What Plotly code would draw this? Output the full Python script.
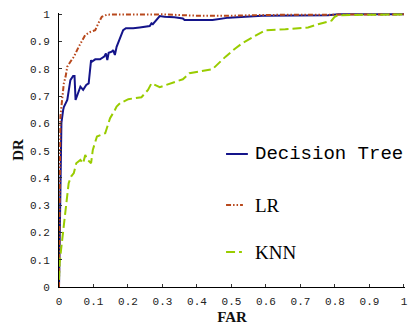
import plotly.graph_objects as go

# Decision Tree
dt_far = [0, 0.002, 0.004, 0.007, 0.012, 0.014, 0.024, 0.033, 0.041, 0.045, 0.048, 0.062, 0.070, 0.079, 0.086,
          0.093, 0.095, 0.105, 0.119, 0.131, 0.136, 0.140, 0.144, 0.153, 0.157, 0.162, 0.167, 0.186, 0.194,
          0.215, 0.234, 0.263, 0.268, 0.272, 0.292, 0.306, 0.335, 0.359, 0.364, 0.445, 0.492, 0.522, 0.589,
          0.780, 0.804, 0.81, 1.0]
dt_dr = [0, 0.2, 0.503, 0.602, 0.649, 0.660, 0.686, 0.759, 0.774, 0.774, 0.686, 0.735, 0.723, 0.741, 0.747,
         0.832, 0.826, 0.835, 0.835, 0.845, 0.857, 0.832, 0.859, 0.863, 0.869, 0.851, 0.881, 0.942, 0.949,
         0.949, 0.952, 0.957, 0.967, 0.964, 0.994, 0.991, 0.989, 0.985, 0.979, 0.979, 0.988, 0.991, 0.995,
         0.997, 0.999, 1.0, 1.0]

# LR
lr_far = [0, 0.001, 0.002, 0.004, 0.009, 0.014, 0.019, 0.024, 0.033, 0.043, 0.057, 0.067, 0.076, 0.091,
          0.105, 0.114, 0.124, 0.139, 0.234, 0.30, 0.40, 0.50, 0.60, 1.0]
lr_dr = [0, 0.3, 0.540, 0.625, 0.686, 0.747, 0.771, 0.808, 0.826, 0.844, 0.881, 0.906, 0.924, 0.936,
         0.942, 0.967, 0.991, 0.999, 0.999, 1.0, 0.995, 0.995, 0.998, 1.0]

# KNN
knn_far = [0, 0.002, 0.006, 0.012, 0.019, 0.024, 0.028, 0.035, 0.043, 0.050, 0.062, 0.070, 0.076, 0.083,
           0.093, 0.098, 0.110, 0.134, 0.143, 0.148, 0.162, 0.167, 0.177, 0.186, 0.201, 0.239, 0.258, 0.268,
           0.292, 0.359, 0.378, 0.445, 0.483, 0.512, 0.531, 0.598, 0.656, 0.722, 0.751, 0.790, 0.799, 0.809, 1.0]
knn_dr = [0.027, 0.088, 0.137, 0.210, 0.283, 0.332, 0.381, 0.405, 0.418, 0.454, 0.466, 0.454, 0.484, 0.466,
          0.454, 0.503, 0.552, 0.564, 0.601, 0.619, 0.649, 0.662, 0.674, 0.680, 0.689, 0.696, 0.723, 0.747,
          0.733, 0.762, 0.784, 0.799, 0.845, 0.876, 0.894, 0.942, 0.945, 0.952, 0.964, 0.977, 0.991, 0.997, 1.0]

tick_vals = [0, 0.1, 0.2, 0.3, 0.4, 0.5, 0.6, 0.7, 0.8, 0.9, 1]
tick_text = ["0", "0.1", "0.2", "0.3", "0.4", "0.5", "0.6", "0.7", "0.8", "0.9", "1"]

series_names = ["Decision Tree", "LR", "KNN"]
colors = ["#14148a", "#b8481c", "#99cc00"]
dashes = ["solid", "5px,2px,1.5px,2px,1.5px,2px", "9px,4px"]

fig = go.Figure()
for name, xs, ys, c, d in zip(series_names, [dt_far, lr_far, knn_far], [dt_dr, lr_dr, knn_dr], colors, dashes):
    fig.add_trace(go.Scatter(x=xs, y=ys, mode="lines", name=name,
                             line=dict(color=c, width=2, dash=d), showlegend=False))

W, H = 410, 329
ml, mr, mt, mb = 58.5, 2.5, 13, 42

axis_common = dict(
    showline=True, linecolor="black", linewidth=1,
    ticks="inside", ticklen=3, tickcolor="#333", tickwidth=1,
    showgrid=False, zeroline=False,
    tickvals=tick_vals, ticktext=tick_text,
    tickfont=dict(family="Liberation Mono", size=11, color="#222"),
    mirror=False,
)

fig.update_layout(
    width=W, height=H,
    margin=dict(l=ml, r=mr, t=mt, b=mb, pad=0),
    plot_bgcolor="white", paper_bgcolor="white",
    xaxis=dict(range=[0, 1.003], title=dict(text="FAR", standoff=4,
               font=dict(family="Liberation Serif", size=15, color="#111", weight="bold")),
               ticklabelstandoff=4, **axis_common),
    yaxis=dict(range=[0, 1.005], title=dict(text="DR", standoff=2,
               font=dict(family="Liberation Serif", size=15, color="#111", weight="bold")),
               ticklabelstandoff=6, **axis_common),
)

# custom legend (paper pixel positions converted to paper fractions)
def px_x(p):
    return (p - ml) / (W - ml - mr)

def px_y(p):
    return (H - mb - p) / (H - mt - mb)

legend_rows = [
    ("Decision Tree", 154, 227, 249, "Liberation Mono", 19),
    ("LR", 205, 227, 244, "Liberation Serif", 19),
    ("KNN", 252, 227, 243, "Liberation Serif", 19),
]
for (label, yp, x0, x1, fam, fs), c, d in zip(legend_rows, colors, dashes):
    fig.add_shape(type="line", xref="paper", yref="paper",
                  x0=px_x(x0), x1=px_x(x1), y0=px_y(yp), y1=px_y(yp),
                  line=dict(color=c, width=2, dash=d))
    fig.add_annotation(xref="paper", yref="paper", x=px_x(254), y=px_y(yp),
                       text=label, showarrow=False, xanchor="left", yanchor="middle",
                       font=dict(family=fam, size=fs, color="black"))

fig.write_html("out.html")
